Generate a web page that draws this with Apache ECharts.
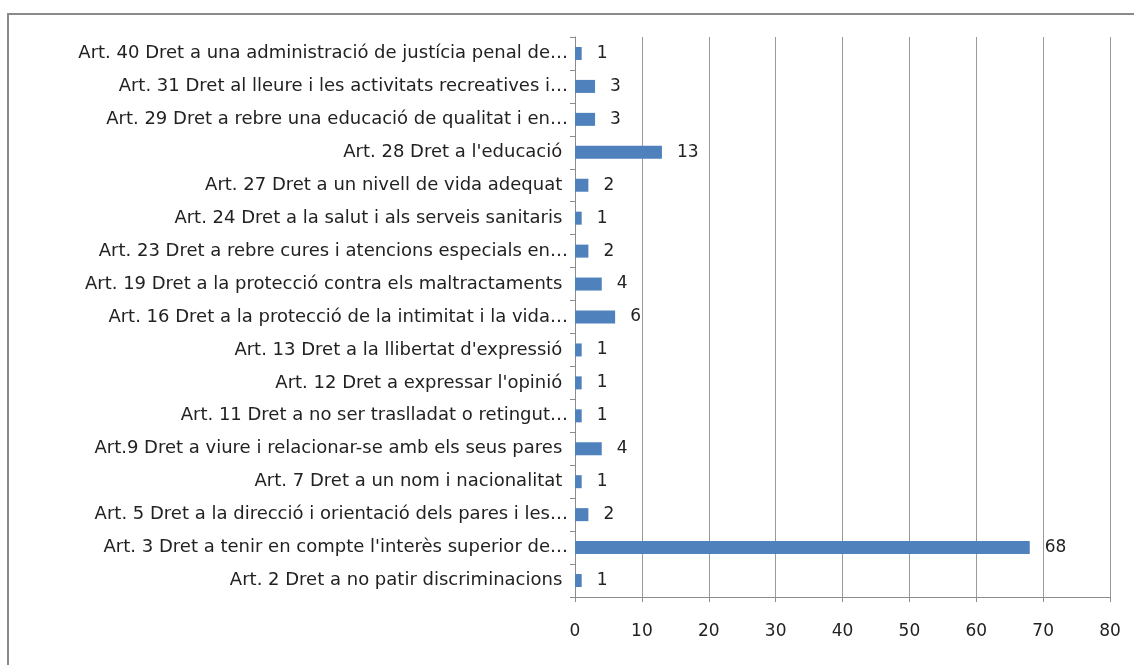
<!DOCTYPE html>
<html lang="ca">
<head>
    <meta charset="utf-8">
    <title>Drets</title>
    <script src="https://cdn.jsdelivr.net/npm/echarts@6/dist/echarts.min.js"></script>
    <style>
        html, body { margin: 0; padding: 0; background: #fff; }
        #main { width: 1134px; height: 665px; }
    </style>
</head>
<body>
    <div id="main"></div>
    <script type="text/javascript">
        // categories, top to bottom
        var categories = [
            'Art. 40 Dret a una administració de justícia penal de…',
            'Art. 31 Dret al lleure i les activitats recreatives i…',
            'Art. 29 Dret a rebre una educació de qualitat i en…',
            "Art. 28 Dret a l'educació ",
            'Art. 27 Dret a un nivell de vida adequat ',
            'Art. 24 Dret a la salut i als serveis sanitaris ',
            'Art. 23 Dret a rebre cures i atencions especials en…',
            'Art. 19 Dret a la protecció contra els maltractaments ',
            'Art. 16 Dret a la protecció de la intimitat i la vida…',
            "Art. 13 Dret a la llibertat d'expressió ",
            "Art. 12 Dret a expressar l'opinió ",
            'Art. 11 Dret a no ser traslladat o retingut…',
            'Art.9 Dret a viure i relacionar-se amb els seus pares ',
            'Art. 7 Dret a un nom i nacionalitat ',
            'Art. 5 Dret a la direcció i orientació dels pares i les…',
            "Art. 3 Dret a tenir en compte l'interès superior de…",
            'Art. 2 Dret a no patir discriminacions '
        ];
        var values = [1, 3, 3, 13, 2, 1, 2, 4, 6, 1, 1, 1, 4, 1, 2, 68, 1];

        var font = '"DejaVu Sans", sans-serif';
        var myChart = echarts.init(document.getElementById('main'));

        var option = {
            animation: false,
            graphic: [{
                type: 'rect',
                shape: { x: 8, y: 14, width: 1140, height: 670 },
                style: { fill: 'none', stroke: '#8a8a8a', lineWidth: 2 }
            }],
            grid: { left: 575, right: 24, top: 37, bottom: 68 },
            xAxis: {
                type: 'value',
                min: 0,
                max: 80,
                interval: 10,
                axisLine: { show: true, lineStyle: { color: '#8c8c8c' } },
                axisTick: { show: true, length: 5, lineStyle: { color: '#8c8c8c' } },
                axisLabel: { color: '#222', fontFamily: font, fontSize: 17, margin: 26 },
                splitLine: { lineStyle: { color: '#9a9a9a' } }
            },
            yAxis: {
                type: 'category',
                inverse: true,
                data: categories,
                axisLine: { lineStyle: { color: '#8c8c8c' } },
                axisTick: { show: true, length: 5, lineStyle: { color: '#8c8c8c' } },
                axisLabel: { color: '#222', fontFamily: font, fontSize: 18, margin: 7 }
            },
            series: [{
                type: 'bar',
                data: values,
                barWidth: 13,
                itemStyle: { color: '#4f81bd' },
                label: {
                    show: true,
                    position: 'right',
                    distance: 15,
                    color: '#222',
                    fontFamily: font,
                    fontSize: 17
                }
            }]
        };

        myChart.setOption(option);
    </script>
</body>
</html>
